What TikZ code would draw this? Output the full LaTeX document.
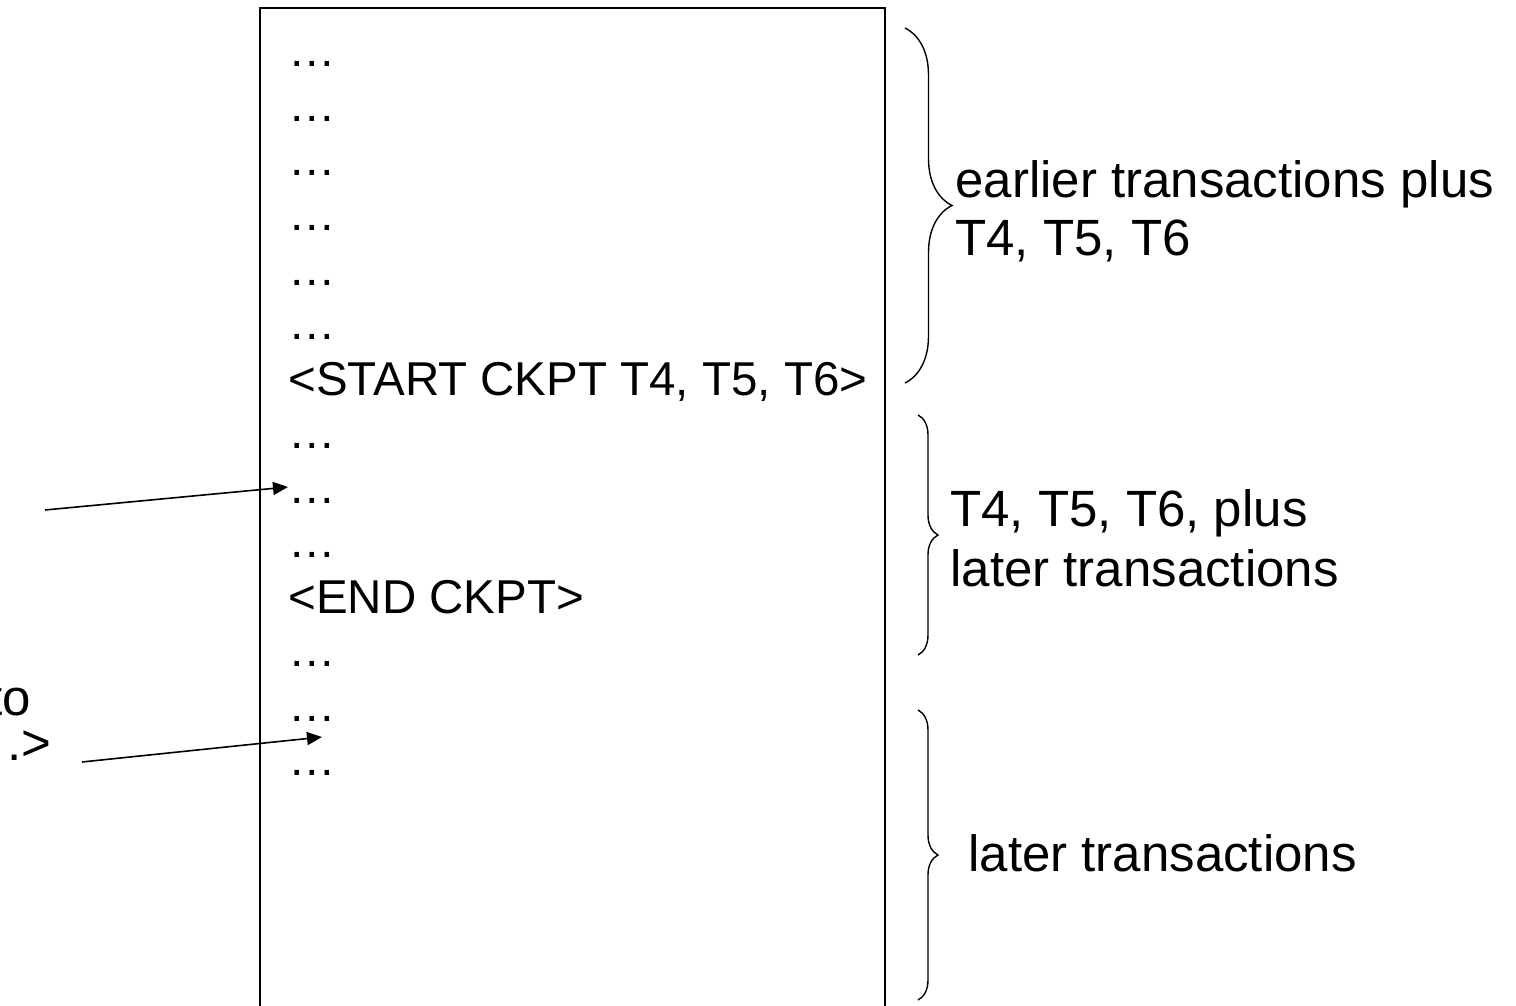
\documentclass[tikz,border=0pt]{standalone}
\usepackage{fontspec}
\setmainfont{Liberation Sans}
\usetikzlibrary{arrows.meta,decorations.pathreplacing}

\begin{document}
\begin{tikzpicture}[x=0.5pt,y=-0.5pt]


\tikzset{LogRow/.style = {anchor=base west, inner sep=0pt, font=\fontsize{23.75}{28}\selectfont},
         Note/.style   = {anchor=base west, inner sep=0pt, font=\fontsize{25.5}{30}\selectfont},
         Pointer/.style = {line width=.8pt, -{Triangle[length=7.5pt,width=6.5pt]}},
         Span/.style   = {line width=.7pt, decorate, decoration={brace, amplitude=#1}}}

\useasboundingbox (0,0) rectangle (1516,1006);
\clip (0,0) rectangle (1516,1006);

% the log
\draw[line width=1pt] (260,1012) -- (260,8) -- (885,8) -- (885,1012);

\node[LogRow] (r0)  at (288,67)    {…};
\node[LogRow] (r1)  at (288,121.5) {…};
\node[LogRow] (r2)  at (288,176)   {…};
\node[LogRow] (r3)  at (288,230.5) {…};
\node[LogRow] (r4)  at (288,285)   {…};
\node[LogRow] (r5)  at (288,339.5) {…};
\node[LogRow] (r6)  at (288,395)   {<START CKPT T4, T5, T6>};
\node[LogRow] (r7)  at (288,448.5) {…};
\node[LogRow] (r8)  at (288,503)   {…};
\node[LogRow] (r9)  at (288,557.5) {…};
\node[LogRow] (r10) at (288,613)   {<END CKPT>};
\node[LogRow] (r11) at (288,666.5) {…};
\node[LogRow] (r12) at (288,721)   {…};
\node[LogRow] (r13) at (288,775.5) {…};

% pointers from the left
\node[Note, anchor=base east] (to) at (31,715) {to};
\node[Note, anchor=base east] (gt) at (52,760) {.>};

\coordinate (p1) at (45,510);
\coordinate (q1) at (288,487);
\coordinate (p2) at (82,762);
\coordinate (q2) at (322,737);

\draw[Pointer] (p1) -- (q1);
\draw[Pointer] (p2) -- (q2);

% braces
\coordinate (b1s) at (905,28);
\coordinate (b1e) at (905,383);
\coordinate (b2s) at (918,415);
\coordinate (b2e) at (918,655);
\coordinate (b3s) at (918,710);
\coordinate (b3e) at (918,1000);

\draw[Span=23.5pt] (b1s) -- (b1e);
\draw[Span=10pt] (b2s) -- (b2e);
\draw[Span=10pt] (b3s) -- (b3e);

\node[Note] (n1a) at (955,198) {earlier transactions plus};
\node[Note] (n1b) at (955,256) {T4, T5, T6};
\node[Note] (n2a) at (950,526) {T4, T5, T6, plus};
\node[Note] (n2b) at (950,586) {later transactions};
\node[Note] (n3)  at (968,871) {later transactions};

\end{tikzpicture}
\end{document}
